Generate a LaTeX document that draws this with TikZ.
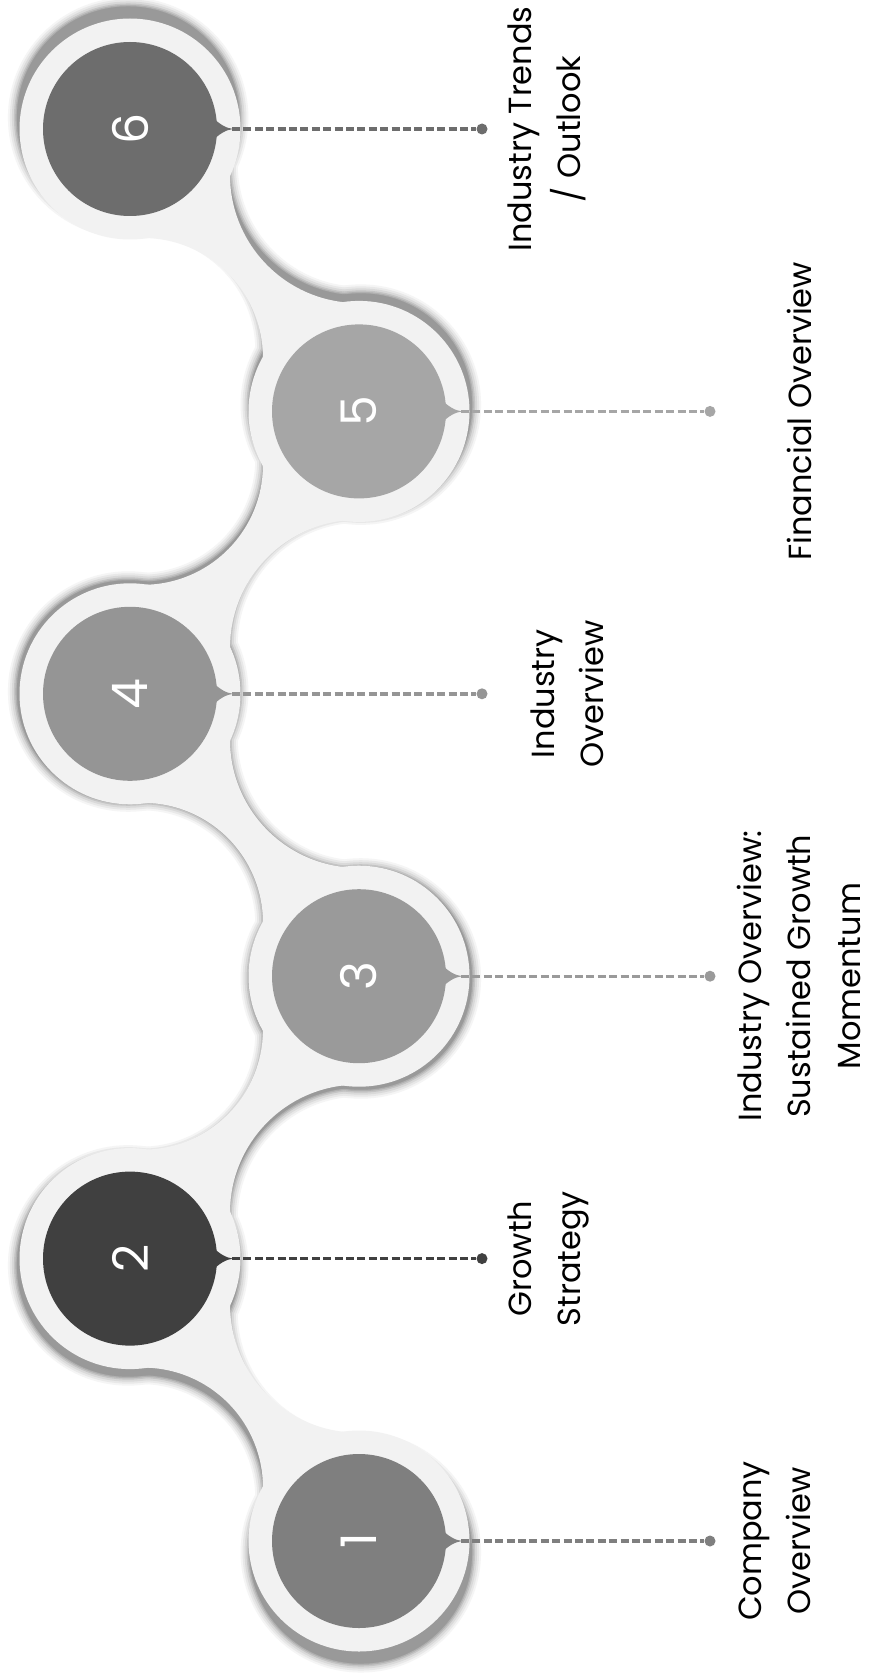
\documentclass[tikz,border=0pt]{standalone}
\usepackage{fontspec}
\setmainfont{Poppins}
\usetikzlibrary{calc}
\definecolor{ring}{HTML}{F2F2F2}
\definecolor{cA}{HTML}{7F7F7F}
\definecolor{cB}{HTML}{404040}
\definecolor{cC}{HTML}{9A9A9A}
\definecolor{cD}{HTML}{959595}
\definecolor{cE}{HTML}{A6A6A6}
\definecolor{cF}{HTML}{6D6D6D}
\tikzset{
  numc/.style={circle,inner sep=0pt,minimum size=87pt,text=white,rotate=90,
    font=\fontsize{24.5}{24.5}\selectfont},
  dotn/.style={circle,inner sep=0pt,minimum size=5.5pt},
  conn/.style={line width=1.7pt,dash pattern=on 4pt off 1.7pt},
  lab/.style={rotate=90,anchor=base,align=center,inner sep=0pt,text=black,
    font=\fontsize{16}{24.75}\selectfont},
  shl/.style={fill=#1,draw=#1,line join=round}
}
\begin{document}
\begin{tikzpicture}[x=0.5pt,y=-0.5pt]
\fill[white] (0,0) rectangle (874,1680);
\useasboundingbox (0,0) rectangle (874,1680);
% shadow (enlarged, blurred copy of the outline)
\begin{scope}[shift={(245,835)},scale=1.016,shift={(-245,-835)}]
\foreach \w/\g in {9/4,7/9,5/15,3/23,1.5/31,0.1/40}{
  \foreach \cx/\cy in {130/129,359/411.4,130/693.8,359/976.2,130/1258.6,359/1541}
    \filldraw[shl=black!\g,line width=\w pt] (\cx,\cy) circle[radius=109.5];
  \foreach \y in {129,693.8,1258.6}
    \filldraw[shl=black!\g,line width=\w pt] (130,\y) -- ($(143,\y+229)+(-93:121)$)
      arc[start angle=-93,end angle=10,radius=121] -- (359,\y+282.4)
      -- ($(358,\y+46)+(92:129)$) arc[start angle=92,end angle=182,radius=129] -- cycle;
  \foreach \y in {411.4,976.2}
    \filldraw[shl=black!\g,line width=\w pt] (130,\y+282.4) -- ($(143,\y+53.4)+(93:121)$)
      arc[start angle=93,end angle=-10,radius=121] -- (359,\y)
      -- ($(358,\y+236.4)+(-92:129)$) arc[start angle=-92,end angle=-182,radius=129] -- cycle;
}
\end{scope}
% light grey snake
\foreach \cx/\cy in {130/129,359/411.4,130/693.8,359/976.2,130/1258.6,359/1541}
  \fill[ring] (\cx,\cy) circle[radius=110.5];
\foreach \y in {129,693.8,1258.6}
  \fill[ring] (130,\y) -- ($(143,\y+229)+(-93:120)$)
    arc[start angle=-93,end angle=10,radius=120] -- (359,\y+282.4)
    -- ($(358,\y+46)+(92:128)$) arc[start angle=92,end angle=182,radius=128] -- cycle;
\foreach \y in {411.4,976.2}
  \fill[ring] (130,\y+282.4) -- ($(143,\y+53.4)+(93:120)$)
    arc[start angle=93,end angle=-10,radius=120] -- (359,\y)
    -- ($(358,\y+236.4)+(-92:128)$) arc[start angle=-92,end angle=-182,radius=128] -- cycle;
% numbered circles, pointers, connectors
\foreach \i/\cx/\cy/\col/\dx in {1/359/1541/cA/710,2/130/1258.6/cB/482,3/359/976.2/cC/710,
    4/130/693.8/cD/482,5/359/411.4/cE/710,6/130/129/cF/482}{
  \fill[\col] (\cx+80,\cy-14) .. controls (\cx+90,\cy-4) and (\cx+96,\cy-1) .. (\cx+103,\cy)
    .. controls (\cx+96,\cy+1) and (\cx+90,\cy+4) .. (\cx+80,\cy+14) -- cycle;
  \node[numc,fill=\col] (n\i) at (\cx,\cy) {\i};
  \coordinate (t\i) at (\cx+102,\cy);
  \node[dotn,fill=\col] (d\i) at (\dx,\cy) {};
  \draw[conn,draw=\col] (t\i) -- (d\i);
}
% labels (anchor = baseline of the last line)
\node[lab] (l6) at (580.5,129) {Industry Trends\\/ Outlook};
\node[lab] (l5) at (811,411.4) {Financial Overview};
\node[lab] (l4) at (603.5,693.8) {Industry\\Overview};
\node[lab] (l3) at (860,976.2) {Industry Overview:\\Sustained Growth\\Momentum};
\node[lab] (l2) at (580.5,1258.6) {Growth\\Strategy};
\node[lab] (l1) at (810.5,1541) {Company\\Overview};
\end{tikzpicture}
\end{document}
